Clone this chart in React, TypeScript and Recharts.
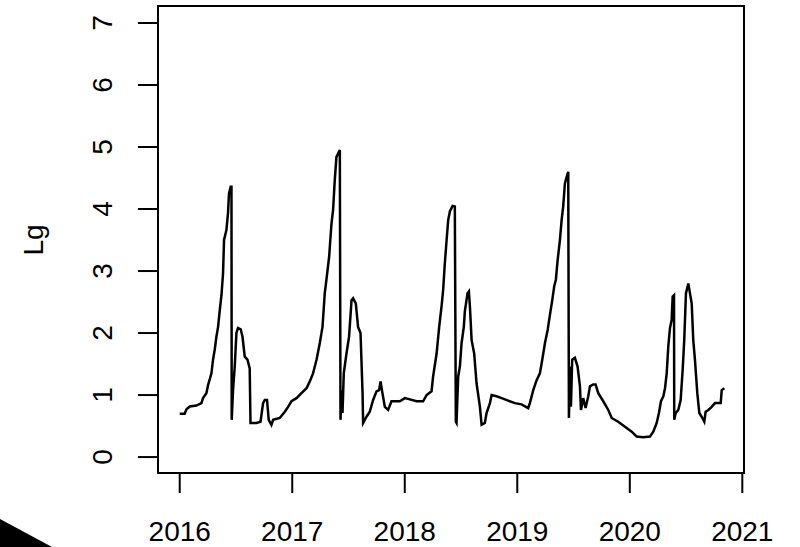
import React from "react";
import { LineChart, Line, XAxis, YAxis, ReferenceArea } from "recharts";

const years: number[] = [
  2016.0, 2016.044, 2016.06, 2016.089, 2016.148, 2016.193, 2016.207, 2016.237, 2016.252, 2016.282,
  2016.296, 2016.311, 2016.326, 2016.341, 2016.356, 2016.371, 2016.385, 2016.394, 2016.415, 2016.429,
  2016.438, 2016.453, 2016.46, 2016.462, 2016.474, 2016.489, 2016.504, 2016.518, 2016.542, 2016.558,
  2016.578, 2016.602, 2016.622, 2016.629, 2016.682, 2016.718, 2016.741, 2016.756, 2016.776, 2016.791,
  2016.815, 2016.83, 2016.889, 2016.934, 2016.963, 2016.993, 2017.038, 2017.082, 2017.127, 2017.156,
  2017.185, 2017.216, 2017.245, 2017.269, 2017.289, 2017.304, 2017.328, 2017.349, 2017.363, 2017.378,
  2017.393, 2017.423, 2017.429, 2017.438, 2017.447, 2017.458, 2017.482, 2017.505, 2017.527, 2017.541,
  2017.565, 2017.585, 2017.607, 2017.625, 2017.63, 2017.66, 2017.689, 2017.719, 2017.749, 2017.772,
  2017.785, 2017.799, 2017.823, 2017.852, 2017.882, 2017.956, 2018.001, 2018.045, 2018.105, 2018.163,
  2018.194, 2018.238, 2018.252, 2018.283, 2018.306, 2018.327, 2018.341, 2018.356, 2018.372, 2018.386,
  2018.401, 2018.425, 2018.445, 2018.454, 2018.46, 2018.475, 2018.49, 2018.505, 2018.525, 2018.534,
  2018.558, 2018.57, 2018.579, 2018.594, 2018.617, 2018.638, 2018.668, 2018.683, 2018.712, 2018.727,
  2018.757, 2018.772, 2018.816, 2018.861, 2018.919, 2018.979, 2019.038, 2019.097, 2019.112, 2019.142,
  2019.172, 2019.201, 2019.222, 2019.246, 2019.27, 2019.29, 2019.311, 2019.328, 2019.343, 2019.359,
  2019.379, 2019.394, 2019.408, 2019.423, 2019.439, 2019.453, 2019.459, 2019.468, 2019.477, 2019.488,
  2019.512, 2019.536, 2019.557, 2019.566, 2019.586, 2019.607, 2019.631, 2019.646, 2019.675, 2019.696,
  2019.72, 2019.764, 2019.809, 2019.839, 2019.897, 2019.957, 2020.017, 2020.061, 2020.12, 2020.179,
  2020.209, 2020.239, 2020.259, 2020.277, 2020.298, 2020.313, 2020.328, 2020.342, 2020.357, 2020.372,
  2020.381, 2020.393, 2020.395, 2020.408, 2020.431, 2020.452, 2020.47, 2020.484, 2020.499, 2020.52,
  2020.535, 2020.55, 2020.564, 2020.579, 2020.6, 2020.618, 2020.639, 2020.662, 2020.674, 2020.698,
  2020.728, 2020.757, 2020.808, 2020.817, 2020.841,
];

const lgValues: number[] = [
  0.7, 0.7, 0.77, 0.815, 0.83, 0.87, 0.95, 1.03, 1.16, 1.35,
  1.57, 1.73, 1.94, 2.1, 2.37, 2.61, 2.96, 3.5, 3.66, 3.93,
  4.25, 4.36, 4.36, 0.6, 1.08, 1.46, 2.0, 2.08, 2.06, 1.94,
  1.62, 1.57, 1.43, 0.55, 0.55, 0.57, 0.87, 0.92, 0.92, 0.6,
  0.52, 0.6, 0.63, 0.73, 0.81, 0.9, 0.95, 1.03, 1.11, 1.22,
  1.35, 1.57, 1.84, 2.1, 2.64, 2.86, 3.23, 3.77, 3.98, 4.47,
  4.84, 4.95, 0.6, 1.08, 0.71, 1.35, 1.67, 1.94, 2.53, 2.56,
  2.48, 2.1, 2.0, 1.03, 0.55, 0.65, 0.73, 0.92, 1.06, 1.08,
  1.22, 1.06, 0.81, 0.76, 0.9, 0.9, 0.95, 0.93, 0.9, 0.9,
  1.0, 1.06, 1.3, 1.67, 2.1, 2.43, 2.69, 3.12, 3.5, 3.82,
  3.96, 4.05, 4.04, 0.57, 0.55, 1.3, 1.46, 1.84, 2.1, 2.35,
  2.64, 2.67, 2.43, 1.89, 1.67, 1.19, 0.81, 0.52, 0.55, 0.71,
  0.87, 1.0, 0.98, 0.95, 0.91, 0.87, 0.85, 0.79, 0.87, 1.08,
  1.24, 1.35, 1.57, 1.84, 2.05, 2.29, 2.53, 2.75, 2.86, 3.18,
  3.5, 3.82, 4.04, 4.41, 4.52, 4.6, 0.63, 1.46, 0.81, 1.57,
  1.6, 1.46, 1.14, 0.76, 0.95, 0.79, 0.98, 1.14, 1.17, 1.17,
  1.03, 0.9, 0.76, 0.63, 0.57, 0.49, 0.41, 0.33, 0.32, 0.33,
  0.41, 0.55, 0.71, 0.9, 0.98, 1.11, 1.35, 1.78, 2.08, 2.21,
  2.59, 2.61, 0.6, 0.71, 0.76, 0.92, 1.41, 1.89, 2.64, 2.8,
  2.64, 2.48, 1.89, 1.57, 1.03, 0.71, 0.65, 0.57, 0.73, 0.76,
  0.81, 0.87, 0.87, 1.08, 1.11,
];

const xTicks: number[] = [2016, 2017, 2018, 2019, 2020, 2021];
const yTicks: number[] = [0, 1, 2, 3, 4, 5, 6, 7];
const yLabel = "Lg";

const X_DOMAIN: [number, number] = [2015.807, 2021.015];
const Y_DOMAIN: [number, number] = [-0.257, 7.274];

const data = years.map((y, i) => ({ year: y, lg: lgValues[i] }));

const FONT = "'Liberation Sans', Arial, Helvetica, sans-serif";

const XTick = (props: any) => {
  const { x, y, payload } = props;
  return (
    <text x={x} y={y + 46} textAnchor="middle" fontSize={28} fontFamily={FONT} fill="#000">
      {payload.value}
    </text>
  );
};

const YTick = (props: any) => {
  const { x, y, payload } = props;
  const tx = x - 24;
  return (
    <text
      x={tx}
      y={y}
      textAnchor="middle"
      fontSize={28}
      fontFamily={FONT}
      fill="#000"
      transform={`rotate(-90, ${tx}, ${y})`}
    >
      {payload.value}
    </text>
  );
};

const YLabel = () => (
  <text
    x={43}
    y={240}
    textAnchor="middle"
    fontSize={28}
    fontFamily={FONT}
    fill="#000"
    transform="rotate(-90, 43, 240)"
  >
    {yLabel}
  </text>
);

export default function App() {
  return (
    <div style={{ position: "absolute", left: 0, top: 0, width: 800, height: 547, background: "#fff" }}>
      <LineChart
        width={800}
        height={547}
        data={data}
        margin={{ top: 6, right: 56, bottom: 0, left: 58 }}
      >
        <XAxis
          dataKey="year"
          type="number"
          domain={X_DOMAIN}
          ticks={xTicks}
          allowDataOverflow
          axisLine={false}
          tickSize={20}
          tickLine={{ stroke: "#000", strokeWidth: 2 }}
          tick={<XTick />}
          height={74}
          interval={0}
        />
        <YAxis
          type="number"
          domain={Y_DOMAIN}
          ticks={yTicks}
          allowDataOverflow
          axisLine={false}
          tickSize={20}
          tickLine={{ stroke: "#000", strokeWidth: 2 }}
          tick={<YTick />}
          width={100}
          interval={0}
          label={<YLabel />}
        />
        <ReferenceArea
          x1={X_DOMAIN[0]}
          x2={X_DOMAIN[1]}
          y1={Y_DOMAIN[0]}
          y2={Y_DOMAIN[1]}
          fill="none"
          stroke="#000"
          strokeWidth={2}
          ifOverflow="visible"
        />
        <Line
          dataKey="lg"
          type="linear"
          stroke="#000"
          strokeWidth={2.5}
          dot={false}
          isAnimationActive={false}
        />
      </LineChart>
      <svg
        width={800}
        height={547}
        style={{ position: "absolute", left: 0, top: 0, pointerEvents: "none" }}
      >
        <polygon points="0,519 52,547 0,547" fill="#000" />
      </svg>
    </div>
  );
}
